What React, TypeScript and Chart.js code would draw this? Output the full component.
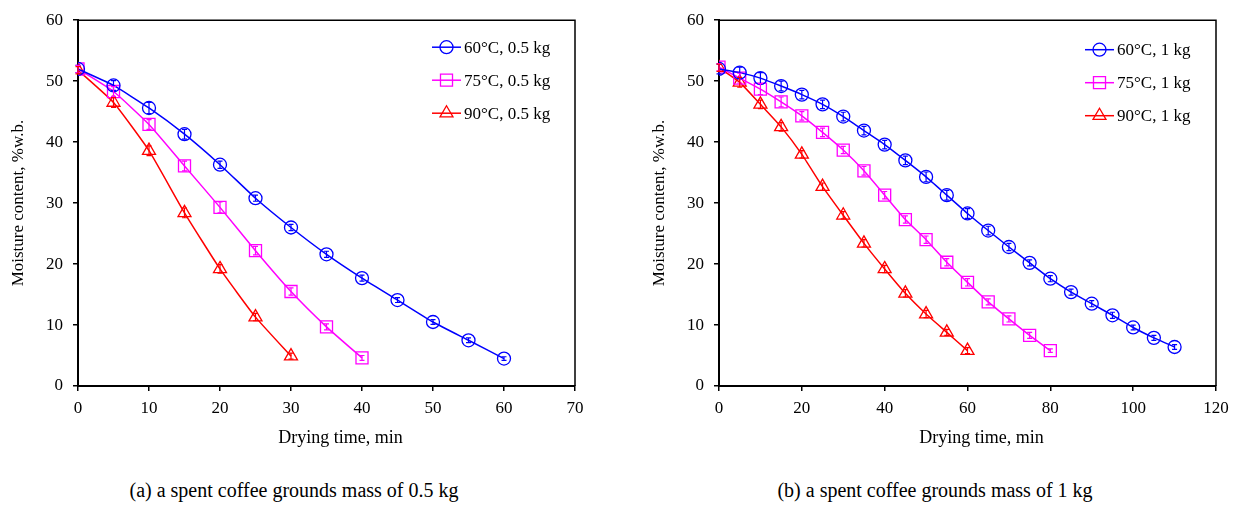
import React, { useEffect, useRef } from "react";
import { Chart, registerables } from "chart.js";
import { drawPoint } from "chart.js/helpers";

Chart.register(...registerables);

// ---------- DATA ----------
// (a) 0.5 kg
const timeA60 = [0, 5, 10, 15, 20, 25, 30, 35, 40, 45, 50, 55, 60];
const mcA60 = [52.0, 49.3, 45.6, 41.3, 36.3, 30.8, 26.0, 21.6, 17.7, 14.1, 10.5, 7.5, 4.5];
const errA60 = [0.6, 0.8, 0.9, 0.8, 0.6, 0.5, 0.5, 0.5, 0.5, 0.4, 0.4, 0.4, 0.3];

const timeA75 = [0, 5, 10, 15, 20, 25, 30, 35, 40];
const mcA75 = [52.0, 48.3, 42.9, 36.1, 29.3, 22.2, 15.5, 9.7, 4.6];
const errA75 = [0.6, 0.8, 0.8, 0.8, 0.9, 0.7, 0.6, 0.5, 0.4];

const timeA90 = [0, 5, 10, 15, 20, 25, 30];
const mcA90 = [51.8, 46.5, 38.6, 28.4, 19.2, 11.3, 4.9];
const errA90 = [0.6, 0.8, 0.8, 0.8, 0.7, 0.6, 0.5];

// (b) 1 kg
const timeB60 = [0, 5, 10, 15, 20, 25, 30, 35, 40, 45, 50, 55, 60, 65, 70, 75, 80, 85, 90, 95, 100, 105, 110];
const mcB60 = [52.0, 51.4, 50.5, 49.2, 47.8, 46.2, 44.2, 41.9, 39.6, 37.0, 34.3, 31.3, 28.3, 25.5, 22.8, 20.2, 17.6, 15.4, 13.5, 11.6, 9.6, 7.9, 6.4];
const errB60 = [0.8, 0.9, 0.9, 0.8, 0.7, 0.7, 0.7, 0.7, 0.7, 0.7, 0.8, 0.8, 0.8, 0.7, 0.6, 0.5, 0.5, 0.5, 0.5, 0.5, 0.4, 0.4, 0.4];

const timeB75 = [0, 5, 10, 15, 20, 25, 30, 35, 40, 45, 50, 55, 60, 65, 70, 75, 80];
const mcB75 = [52.3, 50.5, 48.7, 46.6, 44.3, 41.6, 38.7, 35.3, 31.3, 27.3, 24.0, 20.3, 17.0, 13.8, 11.0, 8.3, 5.8];
const errB75 = [0.6, 0.8, 0.9, 0.8, 0.7, 0.7, 0.6, 0.7, 0.6, 0.6, 0.6, 0.6, 0.6, 0.5, 0.5, 0.5, 0.3];

const timeB90 = [0, 5, 10, 15, 20, 25, 30, 35, 40, 45, 50, 55, 60];
const mcB90 = [52.2, 49.8, 46.2, 42.5, 38.0, 32.7, 28.0, 23.4, 19.2, 15.2, 11.8, 8.8, 5.8];
const errB90 = [0.6, 0.8, 0.7, 0.7, 0.6, 0.6, 0.6, 0.6, 0.6, 0.6, 0.6, 0.5, 0.5];

const labelsA = ["60°C, 0.5 kg", "75°C, 0.5 kg", "90°C, 0.5 kg"];
const labelsB = ["60°C, 1 kg", "75°C, 1 kg", "90°C, 1 kg"];

const yTitle = "Moisture content, %w.b.";
const xTitle = "Drying time, min";
const captionA = "(a) a spent coffee grounds mass of 0.5 kg";
const captionB = "(b) a spent coffee grounds mass of 1 kg";

// ---------- STYLE ----------
const FONT = '"Liberation Serif", "Times New Roman", serif';
const COLORS = ["#0000FF", "#FF00FF", "#FF0000"];
const STYLES = ["circle", "rect", "triangle"];
const RADII = [6.5, 8.5, 7.5];

const pts = (xs: number[], ys: number[]) => xs.map((x, i) => ({ x, y: ys[i] }));

const makeDataset = (i: number, label: string, xs: number[], ys: number[], errs: number[]) => ({
  label,
  data: pts(xs, ys),
  errors: errs,
  borderColor: COLORS[i],
  backgroundColor: "rgba(0,0,0,0)",
  borderWidth: 1.5,
  pointStyle: STYLES[i],
  pointRadius: RADII[i],
  pointHoverRadius: RADII[i],
  pointBorderWidth: 1.3,
  pointBorderColor: COLORS[i],
  pointBackgroundColor: "rgba(0,0,0,0)",
  tension: 0.15,
  fill: false,
});

// ---------- PLUGINS ----------
const framePlugin = {
  id: "frame",
  afterDraw(chart: any) {
    const { ctx, chartArea: a } = chart;
    ctx.save();
    ctx.strokeStyle = "#000";
    ctx.lineWidth = 1.5;
    ctx.beginPath();
    ctx.moveTo(a.left, a.top);
    ctx.lineTo(a.right, a.top);
    ctx.lineTo(a.right, a.bottom);
    ctx.stroke();
    ctx.restore();
  },
};

const errorBarPlugin = {
  id: "errorBars",
  afterDatasetsDraw(chart: any) {
    const { ctx } = chart;
    const ys = chart.scales.y;
    chart.data.datasets.forEach((ds: any, i: number) => {
      const meta = chart.getDatasetMeta(i);
      ctx.save();
      ctx.strokeStyle = ds.borderColor;
      ctx.lineWidth = 1.2;
      meta.data.forEach((pt: any, j: number) => {
        const v = ds.data[j].y;
        const e = ds.errors[j];
        const t = ys.getPixelForValue(v + e);
        const b = ys.getPixelForValue(v - e);
        ctx.beginPath();
        ctx.moveTo(pt.x, t);
        ctx.lineTo(pt.x, b);
        ctx.moveTo(pt.x - 2.5, t);
        ctx.lineTo(pt.x + 2.5, t);
        ctx.moveTo(pt.x - 2.5, b);
        ctx.lineTo(pt.x + 2.5, b);
        ctx.stroke();
      });
      ctx.restore();
    });
  },
};

const legendPlugin = {
  id: "insideLegend",
  afterDraw(chart: any, _args: any, opts: any) {
    const { ctx, chartArea: a } = chart;
    const x0 = a.right - opts.right;
    chart.data.datasets.forEach((ds: any, i: number) => {
      const y = a.top + opts.top + i * opts.gap;
      ctx.save();
      ctx.strokeStyle = ds.borderColor;
      ctx.lineWidth = 1.5;
      ctx.beginPath();
      ctx.moveTo(x0, y);
      ctx.lineTo(x0 + 29, y);
      ctx.stroke();
      ctx.fillStyle = "rgba(0,0,0,0)";
      ctx.lineWidth = 1.3;
      drawPoint(ctx, { pointStyle: ds.pointStyle, radius: ds.pointRadius, rotation: 0, borderWidth: 1.3 } as any, x0 + 14.5, y);
      ctx.fillStyle = "#000";
      ctx.font = `17px ${FONT}`;
      ctx.textBaseline = "middle";
      ctx.textAlign = "left";
      ctx.fillText(ds.label, x0 + 32, y + 1);
      ctx.restore();
    });
  },
};

const xTitlePlugin = {
  id: "xTitle",
  afterDraw(chart: any, _args: any, opts: any) {
    const { ctx, chartArea: a } = chart;
    ctx.save();
    ctx.fillStyle = "#000";
    ctx.font = `18px ${FONT}`;
    ctx.textAlign = "center";
    ctx.textBaseline = "middle";
    ctx.fillText(opts.text, (a.left + a.right) / 2 + opts.dx, a.bottom + opts.dy);
    ctx.restore();
  },
};

type Cfg = {
  datasets: any[];
  xMax: number;
  xStep: number;
  width: number;
  padRight: number;
  legendRight: number;
  legendTop: number;
};

function DryingChart({ cfg }: { cfg: Cfg }) {
  const ref = useRef<HTMLCanvasElement | null>(null);
  useEffect(() => {
    if (!ref.current) return;
    const tickFont = { family: FONT, size: 17 };
    const chart = new Chart(ref.current, {
      type: "line",
      data: { datasets: cfg.datasets },
      plugins: [errorBarPlugin, framePlugin, legendPlugin, xTitlePlugin],
      options: {
        responsive: false,
        animation: false,
        events: [],
        layout: { padding: { left: 0, right: cfg.padRight, top: 19, bottom: 0 } },
        plugins: {
          legend: { display: false },
          tooltip: { enabled: false },
          insideLegend: { right: cfg.legendRight, top: cfg.legendTop, gap: 33 },
          xTitle: { text: xTitle, dx: 14, dy: 52 },
        } as any,
        scales: {
          x: {
            type: "linear",
            min: 0,
            max: cfg.xMax,
            ticks: { stepSize: cfg.xStep, color: "#000", font: tickFont, padding: 7, maxRotation: 0 },
            grid: { drawOnChartArea: false, drawTicks: true, tickLength: 5, color: "#000", lineWidth: 1.5 },
            border: { display: true, color: "#000", width: 2 },
            afterFit: (s: any) => {
              s.height = 84;
            },
          },
          y: {
            type: "linear",
            min: 0,
            max: 60,
            ticks: { stepSize: 10, color: "#000", font: tickFont, padding: 10 },
            grid: { drawOnChartArea: false, drawTicks: true, tickLength: 5, color: "#000", lineWidth: 1.5 },
            border: { display: true, color: "#000", width: 2 },
            title: { display: true, text: yTitle, color: "#000", font: { family: FONT, size: 17 }, padding: { top: 8, bottom: 0 } },
            afterFit: (s: any) => {
              s.width = 78;
            },
          },
        },
      } as any,
    });
    return () => chart.destroy();
  }, []);
  return <canvas ref={ref} width={cfg.width} height={470} style={{ display: "block" }} />;
}

export default function App() {
  const cfgA: Cfg = {
    datasets: [
      makeDataset(0, labelsA[0], timeA60, mcA60, errA60),
      makeDataset(1, labelsA[1], timeA75, mcA75, errA75),
      makeDataset(2, labelsA[2], timeA90, mcA90, errA90),
    ],
    xMax: 70,
    xStep: 10,
    width: 610,
    padRight: 35,
    legendRight: 143,
    legendTop: 27,
  };
  const cfgB: Cfg = {
    datasets: [
      makeDataset(0, labelsB[0], timeB60, mcB60, errB60),
      makeDataset(1, labelsB[1], timeB75, mcB75, errB75),
      makeDataset(2, labelsB[2], timeB90, mcB90, errB90),
    ],
    xMax: 120,
    xStep: 20,
    width: 595,
    padRight: 20,
    legendRight: 131,
    legendTop: 29.5,
  };
  const caption: React.CSSProperties = {
    position: "absolute",
    top: 478,
    fontFamily: FONT,
    fontSize: 20,
    lineHeight: "24px",
    textAlign: "center",
    color: "#000",
    whiteSpace: "nowrap",
  };
  return (
    <div style={{ position: "absolute", left: 0, top: 0, width: 1236, height: 506, background: "#fff", overflow: "hidden" }}>
      <div style={{ position: "absolute", left: 0, top: 0 }}>
        <DryingChart cfg={cfgA} />
      </div>
      <div style={{ position: "absolute", left: 641, top: 0 }}>
        <DryingChart cfg={cfgB} />
      </div>
      <div style={{ ...caption, left: 0, width: 588 }}>{captionA}</div>
      <div style={{ ...caption, left: 635, width: 600 }}>{captionB}</div>
    </div>
  );
}
